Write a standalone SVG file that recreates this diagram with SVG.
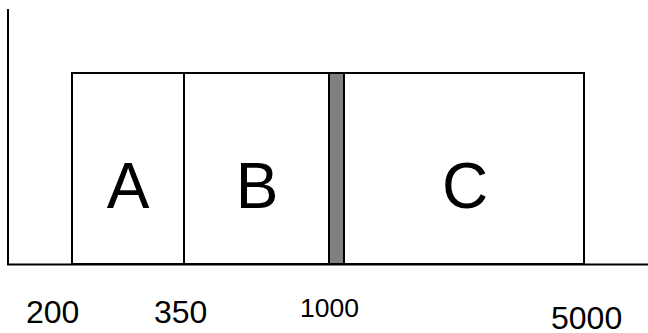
<svg xmlns="http://www.w3.org/2000/svg" width="648" height="333" viewBox="0 0 648 333">
<style>
.ln{stroke:#000;stroke-width:2;fill:none}
.bx{stroke:#000;stroke-width:2;fill:#fff}
.big{font-family:"Liberation Sans",Arial,sans-serif;font-size:64px;fill:#000;text-anchor:middle}
.num{font-family:"Liberation Sans",Arial,sans-serif;font-size:32px;fill:#000}
</style>
<rect width="648" height="333" fill="#fff"/>
<g id="axes">
<line class="ln" x1="8" y1="9" x2="8" y2="265"/>
<line class="ln" x1="7" y1="264.5" x2="648" y2="264.5"/>
</g>
<g id="A">
<rect class="bx" x="72" y="73" width="112" height="191"/>
<text class="big" x="128" y="208">A</text>
</g>
<g id="B">
<rect class="bx" x="184" y="73" width="145" height="191"/>
<text class="big" x="257" y="208">B</text>
</g>
<g id="bar">
<rect x="329" y="73" width="15" height="191" fill="#808080" stroke="#000" stroke-width="2"/>
</g>
<g id="C">
<rect class="bx" x="344" y="73" width="240" height="191"/>
<text class="big" x="465" y="208">C</text>
</g>
<g id="labels">
<text class="num" x="26" y="322.5">200</text>
<text class="num" x="154" y="322.5">350</text>
<text class="num" x="300" y="316.5" style="font-size:26.5px">1000</text>
<text class="num" x="551" y="329">5000</text>
</g>
</svg>
